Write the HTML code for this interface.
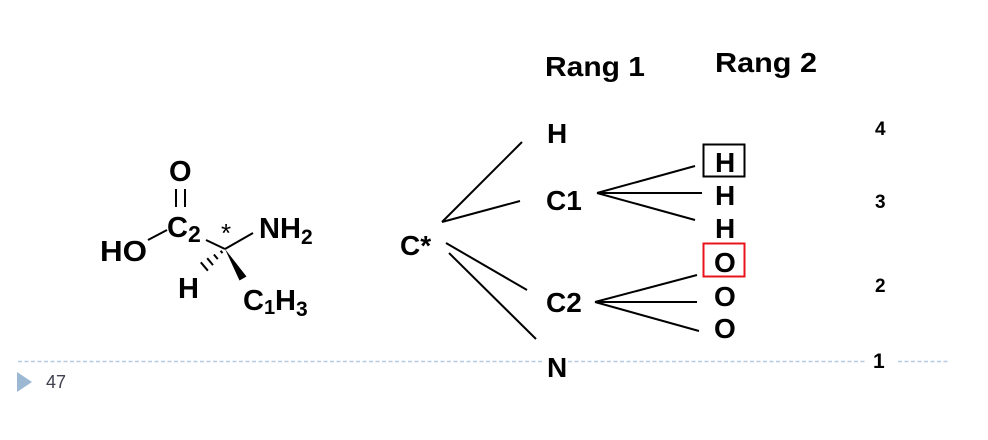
<!DOCTYPE html>
<html>
<head>
<meta charset="utf-8">
<style>
  html, body { margin:0; padding:0; background:#ffffff; }
  body { width:988px; height:440px; overflow:hidden; }
  svg { display:block; }
  .b { font-family:"Liberation Sans", Arial, sans-serif; font-weight:bold; fill:#000; }
</style>
</head>
<body>
<svg width="988" height="440" viewBox="0 0 988 440" xmlns="http://www.w3.org/2000/svg">
  <!-- dashed footer line -->
  <g stroke="#b4cbe3" stroke-width="1.5" stroke-dasharray="4 2.5" fill="none">
    <line x1="18" y1="361.5" x2="542" y2="361.5"/>
    <line x1="568" y1="361.5" x2="865" y2="361.5"/>
    <line x1="898" y1="361.5" x2="948" y2="361.5"/>
  </g>
  <polygon points="17,372 32,382 17,392" fill="#9db8d2"/>
  <text x="46" y="388" font-family="Liberation Sans, Arial, sans-serif" font-size="18" fill="#404050">47</text>

  <!-- Molecule -->
  <g stroke="#000" stroke-width="2" fill="none" stroke-linecap="butt">
    <line x1="176" y1="189" x2="176" y2="207"/>
    <line x1="185" y1="189" x2="185" y2="207"/>
    <line x1="148" y1="240" x2="167" y2="230"/>
    <line x1="206" y1="240" x2="225" y2="249"/>
    <line x1="225" y1="249" x2="253" y2="233"/>
    <line x1="220.6" y1="250.8" x2="222.5" y2="253.1"/>
    <line x1="213.9" y1="254.5" x2="217.8" y2="259.1"/>
    <line x1="207.2" y1="258.2" x2="213.0" y2="265.1"/>
    <line x1="200.8" y1="262.3" x2="207.9" y2="270.7"/>
  </g>
  <polygon points="225,249 246.5,276.5 239.5,280.5" fill="#000"/>

  <text class="b" x="169" y="181" font-size="29">O</text>
  <text class="b" x="167" y="237" font-size="29">C</text>
  <text class="b" x="188" y="242" font-size="23">2</text>
  <text class="b" x="100" y="261" font-size="29" textLength="47" lengthAdjust="spacingAndGlyphs">HO</text>
  <text x="221" y="242" font-size="26" font-family="Liberation Sans, Arial, sans-serif" fill="#000">*</text>
  <text class="b" x="259" y="238" font-size="29">NH</text>
  <text class="b" x="301" y="244" font-size="21">2</text>
  <text class="b" x="178" y="298" font-size="29">H</text>
  <text class="b" x="243" y="310" font-size="29">C</text>
  <text class="b" x="264" y="314" font-size="20">1</text>
  <text class="b" x="275" y="310" font-size="29">H</text>
  <text class="b" x="296" y="316" font-size="21">3</text>

  <!-- Tree -->
  <text class="b" x="400" y="255" font-size="28">C*</text>
  <g stroke="#000" stroke-width="2" fill="none">
    <line x1="442" y1="222" x2="522" y2="142"/>
    <line x1="442" y1="222" x2="520" y2="201"/>
    <line x1="446" y1="243" x2="527" y2="290"/>
    <line x1="449" y1="253" x2="536" y2="339"/>
    <line x1="597" y1="193" x2="695" y2="166"/>
    <line x1="597" y1="193" x2="702" y2="193"/>
    <line x1="597" y1="193" x2="695" y2="220"/>
    <line x1="595" y1="302" x2="697" y2="275"/>
    <line x1="595" y1="302" x2="697" y2="302"/>
    <line x1="595" y1="302" x2="699" y2="331"/>
  </g>

  <text class="b" x="545" y="76" font-size="28" textLength="100" lengthAdjust="spacingAndGlyphs">Rang 1</text>
  <text class="b" x="715" y="72" font-size="28" textLength="102" lengthAdjust="spacingAndGlyphs">Rang 2</text>

  <text class="b" x="547" y="143" font-size="28">H</text>
  <text class="b" x="546" y="210" font-size="28">C1</text>
  <text class="b" x="546" y="312" font-size="28">C2</text>
  <text class="b" x="547" y="377" font-size="28">N</text>

  <rect x="703.5" y="144.5" width="41" height="32" fill="none" stroke="#000" stroke-width="2"/>
  <rect x="703.5" y="243.5" width="41" height="33" fill="none" stroke="#e8141b" stroke-width="2"/>
  <text class="b" x="715" y="172" font-size="28">H</text>
  <text class="b" x="715" y="205" font-size="28">H</text>
  <text class="b" x="715" y="238" font-size="28">H</text>
  <text class="b" x="714" y="272" font-size="28">O</text>
  <text class="b" x="714" y="306" font-size="28">O</text>
  <text class="b" x="714" y="338" font-size="28">O</text>

  <!-- ranks -->
  <text class="b" x="875" y="135" font-size="19">4</text>
  <text class="b" x="875" y="208" font-size="19">3</text>
  <text class="b" x="875" y="292" font-size="19">2</text>
  <text class="b" x="873" y="368" font-size="21">1</text>
</svg>
</body>
</html>
